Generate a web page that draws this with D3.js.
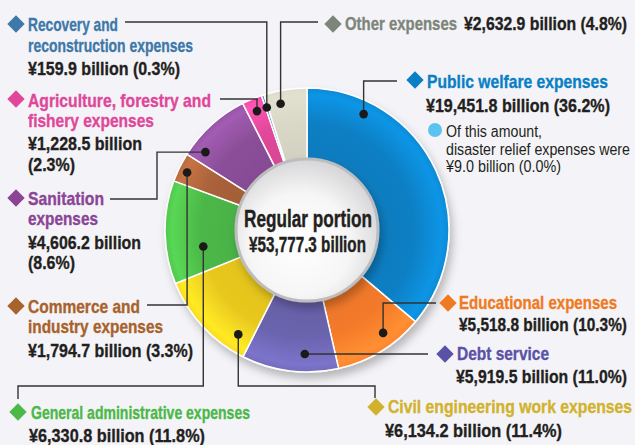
<!DOCTYPE html>
<html>
<head>
<meta charset="utf-8">
<script src="https://cdn.jsdelivr.net/npm/d3@7"></script>
<style>
  html, body { margin: 0; padding: 0; background: #f4f4f8; }
  svg { display: block; }
  text { font-family: "Liberation Sans", Arial, "Helvetica", sans-serif; }
  .ttl { font-weight: bold; font-size: 19px; stroke-width: 0.35px; }
  .val { font-weight: bold; font-size: 19px; fill: #231f20; stroke: #231f20; stroke-width: 0.35px; }
  .note { font-size: 16px; fill: #231f20; }
</style>
</head>
<body>
<div id="chart"></div>
<script>
// data, clockwise from 12 o'clock
const categories = ['Public welfare expenses', 'Educational expenses', 'Debt service',
  'Civil engineering work expenses', 'General administrative expenses',
  'Commerce and industry expenses', 'Sanitation expenses',
  'Agriculture, forestry and fishery expenses', 'Recovery and reconstruction expenses',
  'Other expenses'];
const values = [19451.8, 5518.8, 5919.5, 6134.2, 6330.8, 1794.7, 4606.2, 1228.5, 159.9, 2632.9];
const shares = [36.2, 10.3, 11.0, 11.4, 11.8, 3.3, 8.6, 2.3, 0.3, 4.8];
const total = 53777.3;
const reliefValue = 9.0;
const reliefShare = 0.0;

const sliceColors = ['#0a7fc4', '#f47a2a', '#6a63ad', '#e9c81f', '#4cb748', '#a9623a', '#8a4e98', '#e0489a', '#4a80aa', '#d9d7c6'];
const labelColors = ['#0a7fc4', '#f07a22', '#5a52a6', '#d2b22c', '#4cb848', '#a8622c', '#8b4496', '#e0479a', '#3d78a8', '#7d857a'];

const width = 635;
const height = 445;
const cx = 307, cy = 230;
const outerR = 142, innerR = 66;

const fmt = d3.format(',.1f');
const valStr = i => `¥${fmt(values[i])} billion`;
const pctStr = i => `(${shares[i].toFixed(1)}%)`;
const full = i => `${valStr(i)} ${pctStr(i)}`;

// label layout: title lines [text, baseline, width], value lines [fn, baseline, x, width],
// leader routing (v = vertical to y, h = horizontal to x)
// t = position of the dot inside the slice, r = dot radius
// widths squeeze a regular face to the condensed one of the original
const layout = [
  { dx: 415, dy: 80, x: 427, title: [['Public welfare expenses', 88, 181]], vals: [[full, 112, 426, 184]], t: 0.2, r: 129, lead: [['v', 81], ['h', 397]] },
  { dx: 448, dy: 303, x: 459, title: [['Educational expenses', 309, 158]], vals: [[full, 331, 459, 168]], t: 0.36, r: 128, lead: [['v', 303], ['h', 436]] },
  { dx: 445, dy: 354, x: 457, title: [['Debt service', 360, 92]], vals: [[full, 383, 456, 171]], t: 0.35, r: 124, lead: [['h', 428]] },
  { dx: 376, dy: 407, x: 388, title: [['Civil engineering work expenses', 413, 244]], vals: [[full, 437, 385, 177]], t: 0.16, r: 125, lead: [['v', 386], ['h', 375], ['v', 398]] },
  { dx: 18, dy: 412, x: 31, title: [['General administrative expenses', 419, 219]], vals: [[full, 442, 29, 176]], t: 0.31, r: 105, lead: [['v', 386], ['h', 18], ['v', 399]] },
  { dx: 16, dy: 306, x: 28, title: [['Commerce and', 313, 112], ['industry expenses', 333, 135]], vals: [[full, 357, 28, 165]], t: 0.45, r: 133, lead: [['v', 305], ['h', 147]] },
  { dx: 16, dy: 198, x: 28, title: [['Sanitation', 205, 76], ['expenses', 225, 70]], vals: [[valStr, 249, 28, 113], [pctStr, 269, 28, 47]], t: 0.17, r: 128, lead: [['h', 157], ['v', 199], ['h', 110]] },
  { dx: 16, dy: 99, x: 28, title: [['Agriculture, forestry and', 107, 183], ['fishery expenses', 127, 126]], vals: [[valStr, 150, 28, 114], [pctStr, 171, 28, 47]], t: 0.5, r: 129, lead: [['v', 99], ['h', 220]] },
  { dx: 16, dy: 24, x: 28, title: [['Recovery and', 31, 90], ['reconstruction expenses', 52, 165]], vals: [[full, 75, 28, 152]], t: 0.5, r: 129, lead: [['v', 22], ['h', 125]] },
  { dx: 333, dy: 24, x: 345, title: [['Other expenses', 30, 112]], vals: [[full, 30, 464, 163]], t: 0.33, r: 129, lead: [['v', 22], ['h', 318]] }
];

const svg = d3.select('#chart').append('svg')
  .attr('width', width)
  .attr('height', height);

svg.append('rect').attr('width', width).attr('height', height).attr('fill', '#f4f4f8');

const defs = svg.append('defs');

// slice gradients: lighter towards the rim
sliceColors.forEach((c, i) => {
  const g = defs.append('radialGradient')
    .attr('id', `sg${i}`)
    .attr('gradientUnits', 'userSpaceOnUse')
    .attr('cx', 0).attr('cy', 0).attr('r', outerR);
  const base = d3.color(c);
  const k = i === 9 ? 0.12 : 0.45;
  g.append('stop').attr('offset', 0.45).attr('stop-color', base.darker(0.1));
  g.append('stop').attr('offset', 0.75).attr('stop-color', base);
  g.append('stop').attr('offset', 0.95).attr('stop-color', base.brighter(k));
  g.append('stop').attr('offset', 1).attr('stop-color', base.brighter(k / 2));
});

const hub = defs.append('radialGradient').attr('id', 'hub')
  .attr('cx', 0.45).attr('cy', 0.6).attr('r', 0.6);
hub.append('stop').attr('offset', 0).attr('stop-color', '#ffffff');
hub.append('stop').attr('offset', 0.6).attr('stop-color', '#f6f6f6');
hub.append('stop').attr('offset', 1).attr('stop-color', '#d6d6d8');

const shadow = defs.append('filter').attr('id', 'shadow')
  .attr('x', '-20%').attr('y', '-20%').attr('width', '140%').attr('height', '140%');
shadow.append('feDropShadow').attr('dx', 3).attr('dy', 6).attr('stdDeviation', 4)
  .attr('flood-color', '#000').attr('flood-opacity', 0.25);

const pie = d3.pie().sort(null).value(d => d);
const arcs = pie(values);
const arc = d3.arc().innerRadius(innerR).outerRadius(outerR);

const donut = svg.append('g').attr('transform', `translate(${cx},${cy})`);

const ring = donut.append('g').attr('filter', 'url(#shadow)');
ring.selectAll('path')
  .data(arcs)
  .enter()
  .append('path')
  .attr('d', arc)
  .attr('fill', (d, i) => `url(#sg${i})`)
  .attr('stroke', '#ffffff')
  .attr('stroke-width', 1.5);

// center disc
donut.append('circle')
  .attr('r', 71)
  .attr('fill', 'url(#hub)')
  .attr('stroke', '#bdbdbf')
  .attr('stroke-width', 3)
  .attr('filter', 'url(#shadow)');

donut.append('text')
  .attr('x', -63).attr('y', -3)
  .attr('textLength', 128).attr('lengthAdjust', 'spacingAndGlyphs')
  .attr('font-size', 24)
  .attr('font-weight', 'bold')
  .attr('fill', '#231f20').attr('stroke', '#231f20').attr('stroke-width', 0.4)
  .text('Regular portion');
donut.append('text')
  .attr('x', -58).attr('y', 22)
  .attr('textLength', 117).attr('lengthAdjust', 'spacingAndGlyphs')
  .attr('font-size', 21.5)
  .attr('font-weight', 'bold')
  .attr('fill', '#231f20').attr('stroke', '#231f20').attr('stroke-width', 0.4)
  .text(`¥${fmt(total)} billion`);

// leader lines and dots
const leaders = svg.append('g');
arcs.forEach((d, i) => {
  const L = layout[i];
  const a = d.startAngle + (d.endAngle - d.startAngle) * L.t;
  const px = cx + L.r * Math.sin(a);
  const py = cy - L.r * Math.cos(a);
  const pts = [[px, py]];
  let x = px, y = py;
  L.lead.forEach(([k, v]) => {
    if (k === 'v') y = v; else x = v;
    pts.push([x, y]);
  });
  leaders.append('path')
    .attr('d', d3.line()(pts))
    .attr('fill', 'none')
    .attr('stroke', '#333333')
    .attr('stroke-width', 1.4);
  leaders.append('circle')
    .attr('cx', px).attr('cy', py).attr('r', 4.3)
    .attr('fill', '#1a1a1a');
});

// labels
const labels = svg.append('g');
layout.forEach((L, i) => {
  labels.append('path')
    .attr('d', d3.symbol().type(d3.symbolSquare).size(150)())
    .attr('transform', `translate(${L.dx},${L.dy}) rotate(45)`)
    .attr('fill', labelColors[i]);
  L.title.forEach(([s, y, w]) => {
    labels.append('text').attr('class', 'ttl')
      .attr('x', L.x).attr('y', y)
      .attr('textLength', w).attr('lengthAdjust', 'spacingAndGlyphs')
      .attr('fill', labelColors[i]).attr('stroke', labelColors[i])
      .text(s);
  });
  L.vals.forEach(([f, y, x, w]) => {
    labels.append('text').attr('class', 'val')
      .attr('x', x).attr('y', y)
      .attr('textLength', w).attr('lengthAdjust', 'spacingAndGlyphs')
      .text(f(i));
  });
});

// note under public welfare
labels.append('circle').attr('cx', 435).attr('cy', 130).attr('r', 7).attr('fill', '#5bc3ef');
const notes = ['Of this amount,', 'disaster relief expenses were', `¥${reliefValue.toFixed(1)} billion (${reliefShare.toFixed(1)}%)`];
const noteY = [137, 155, 172];
const noteW = [96, 184, 115];
notes.forEach((s, k) => {
  labels.append('text').attr('class', 'note')
    .attr('x', 446).attr('y', noteY[k])
    .attr('textLength', noteW[k]).attr('lengthAdjust', 'spacingAndGlyphs')
    .text(s);
});
</script>
</body>
</html>
